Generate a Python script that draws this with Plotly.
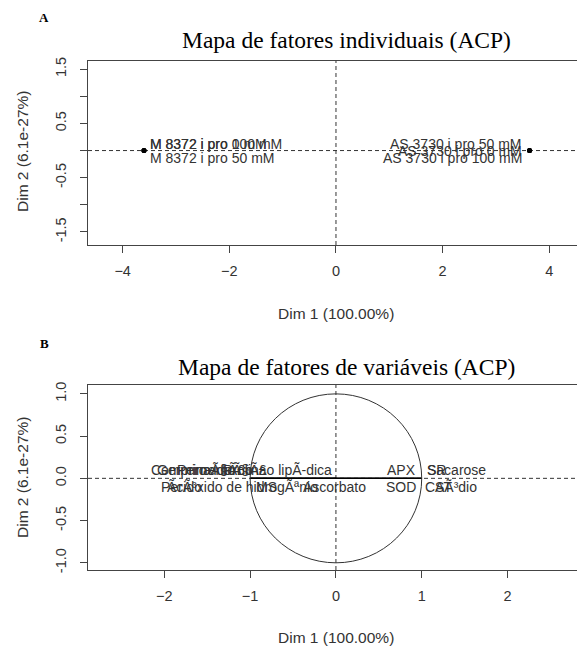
import plotly.graph_objects as go

# ---------------- data ----------------
# Panel A: individuals (Dim 1, Dim 2)
ind_names = ["M 8372 i pro 0 mM", "M 8372 i pro 100 mM", "M 8372 i pro 50 mM",
             "AS 3730 i pro 50 mM", "AS 3730 i pro 0 mM", "AS 3730 i pro 100 mM"]
ind_dim1 = [-3.6, -3.6, -3.6, 3.63, 3.63, 3.63]
ind_dim2 = [0.0, 0.0, 0.0, 0.0, 0.0, 0.0]

# Panel B: variables (correlations with Dim 1, Dim 2)
var_names = ["Comprimento", "GerminaÃ§Ã£o", "PeroxidaÃ§Ã£o lipÃ-dica", "Prolina",
             "PerÃ³xido de hidrogÃªnio", "Ãcido", "MS", "Ascorbato",
             "APX", "SR", "Sacarose", "SOD", "CAT", "SÃ³dio"]
var_dim1 = [-1, -1, -1, -1, -1, -1, -1, -1, 1, 1, 1, 1, 1, 1]
var_dim2 = [0, 0, 0, 0, 0, 0, 0, 0, 0, 0, 0, 0, 0, 0]

# label placement (pixel shifts from the point, anchor side)
ind_lab_dx = [4, 4, 4, -6, -6, -6]
ind_lab_dy = [7, 7, -7, 7, 0, -7]
ind_lab_anchor = ["left", "left", "left", "right", "right", "right"]

var_lab_dx = [-101, -95, 84, -29, -91, -85, 4, 51, -4, 3, 3, -4, 1, 11]
var_lab_dy = [8, 8, 8, 8, -9, -9, -9, -9, 8, 8, 8, -9, -9, -9]
var_lab_anchor = ["left", "left", "right", "left", "left", "left", "left", "left",
                  "right", "left", "left", "right", "left", "left"]

xticks_a = [-4, -2, 0, 2, 4]
yticks_a = [-1.5, -1.0, -0.5, 0.0, 0.5, 1.0, 1.5]
yticks_a_text = ["-1.5", "", "-0.5", "", "0.5", "", "1.5"]
xticks_b = [-2, -1, 0, 1, 2]
yticks_b = [-1.0, -0.5, 0.0, 0.5, 1.0]
yticks_b_text = ["-1.0", "-0.5", "0.0", "0.5", "1.0"]

# ---------------- figure ----------------
W, H = 577, 647
def py(p):  # pixel y -> paper y
    return 1 - p / H
def px(p):
    return p / W

AX = "#444444"
TICKFONT = dict(family="Liberation Sans, Arial, sans-serif", size=14.5, color="#333333")
LABFONT = dict(family="Liberation Sans, Arial, sans-serif", size=14, color="#333333")

fig = go.Figure()

# Panel A points
fig.add_trace(go.Scatter(x=ind_dim1, y=ind_dim2, mode="markers",
                         marker=dict(color="black", size=5),
                         xaxis="x", yaxis="y", showlegend=False, hoverinfo="text",
                         text=ind_names))

# Panel B arrows (origin -> variable)
for vx, vy in zip(var_dim1, var_dim2):
    fig.add_trace(go.Scatter(x=[0, vx], y=[0, vy], mode="lines",
                             line=dict(color="black", width=1),
                             xaxis="x2", yaxis="y2", showlegend=False, hoverinfo="skip"))

annotations = []
for n, x, y, dx, dy, an in zip(ind_names, ind_dim1, ind_dim2, ind_lab_dx, ind_lab_dy, ind_lab_anchor):
    annotations.append(dict(x=x, y=y, xref="x", yref="y", text=n, showarrow=False,
                            xanchor=an, yanchor="middle", xshift=dx, yshift=dy, font=LABFONT))
for n, x, y, dx, dy, an in zip(var_names, var_dim1, var_dim2, var_lab_dx, var_lab_dy, var_lab_anchor):
    annotations.append(dict(x=x, y=y, xref="x2", yref="y2", text=n, showarrow=False,
                            xanchor=an, yanchor="middle", xshift=dx, yshift=dy, font=LABFONT))

TITLEFONT = dict(family="Liberation Serif, Times New Roman, serif", size=23.5, color="black")
PANELFONT = dict(family="Liberation Serif, Times New Roman, serif", size=13, color="black")
AXTFONT = dict(family="Liberation Sans, Arial, sans-serif", size=15.5, color="#333333")

def ann(x, y, text, font, **kw):
    d = dict(x=px(x), y=py(y), xref="paper", yref="paper", text=text, showarrow=False,
             xanchor="center", yanchor="middle", font=font)
    d.update(kw)
    return d

annotations += [
    ann(44, 17, "<b>A</b>", PANELFONT),
    ann(346, 40, "Mapa de fatores individuais (ACP)", TITLEFONT),
    ann(336, 313, "Dim 1 (100.00%)", AXTFONT),
    ann(22, 152, "Dim 2 (6.1e-27%)", AXTFONT, textangle=-90),
    ann(44, 343, "<b>B</b>", PANELFONT),
    ann(346, 367, "Mapa de fatores de variáveis (ACP)", TITLEFONT),
    ann(336, 637, "Dim 1 (100.00%)", AXTFONT),
    ann(22, 478, "Dim 2 (6.1e-27%)", AXTFONT, textangle=-90),
]

dash = dict(color="#333333", width=1, dash="4px,3px")
shapes = [
    dict(type="line", xref="x", yref="y domain", x0=0, x1=0, y0=0, y1=1, line=dash, layer="below"),
    dict(type="line", xref="x domain", yref="y", x0=0, x1=1, y0=0, y1=0, line=dash, layer="below"),
    dict(type="line", xref="x2", yref="y2 domain", x0=0, x1=0, y0=0, y1=1, line=dash, layer="below"),
    dict(type="line", xref="x2 domain", yref="y2", x0=0, x1=1, y0=0, y1=0, line=dash, layer="below"),
    dict(type="circle", xref="x2", yref="y2", x0=-1, y0=-1, x1=1, y1=1,
         line=dict(color="#333333", width=1)),
]

common_x = dict(showgrid=False, zeroline=False, showline=True, linecolor=AX, linewidth=1,
                mirror=True, ticks="outside", ticklen=7, tickcolor=AX, tickfont=TICKFONT,
                ticklabelstandoff=6, automargin=False)
common_y = dict(showgrid=False, zeroline=False, showline=True, linecolor=AX, linewidth=1,
                mirror=False, ticks="outside", ticklen=7, tickcolor=AX, tickfont=TICKFONT,
                tickangle=-90, ticklabelstandoff=8, automargin=False)

fig.update_layout(
    width=W, height=H, margin=dict(l=0, r=0, t=0, b=0),
    paper_bgcolor="white", plot_bgcolor="white", showlegend=False,
    xaxis=dict(common_x, domain=[px(88), 1], range=[-4.65, 4.52], tickvals=xticks_a, anchor="y"),
    yaxis=dict(common_y, domain=[py(245), py(61)], range=[-1.74, 1.65], tickvals=yticks_a,
               ticktext=yticks_a_text, anchor="x"),
    xaxis2=dict(common_x, domain=[px(88), 1], range=[-2.89, 2.81], tickvals=xticks_b, anchor="y2"),
    yaxis2=dict(common_y, domain=[py(570), py(385)], range=[-1.085, 1.105], tickvals=yticks_b,
                ticktext=yticks_b_text, anchor="x2"),
    annotations=annotations, shapes=shapes,
)

fig.write_html("out.html", config={"displayModeBar": False},
               post_script="document.body.style.margin='0px';")
